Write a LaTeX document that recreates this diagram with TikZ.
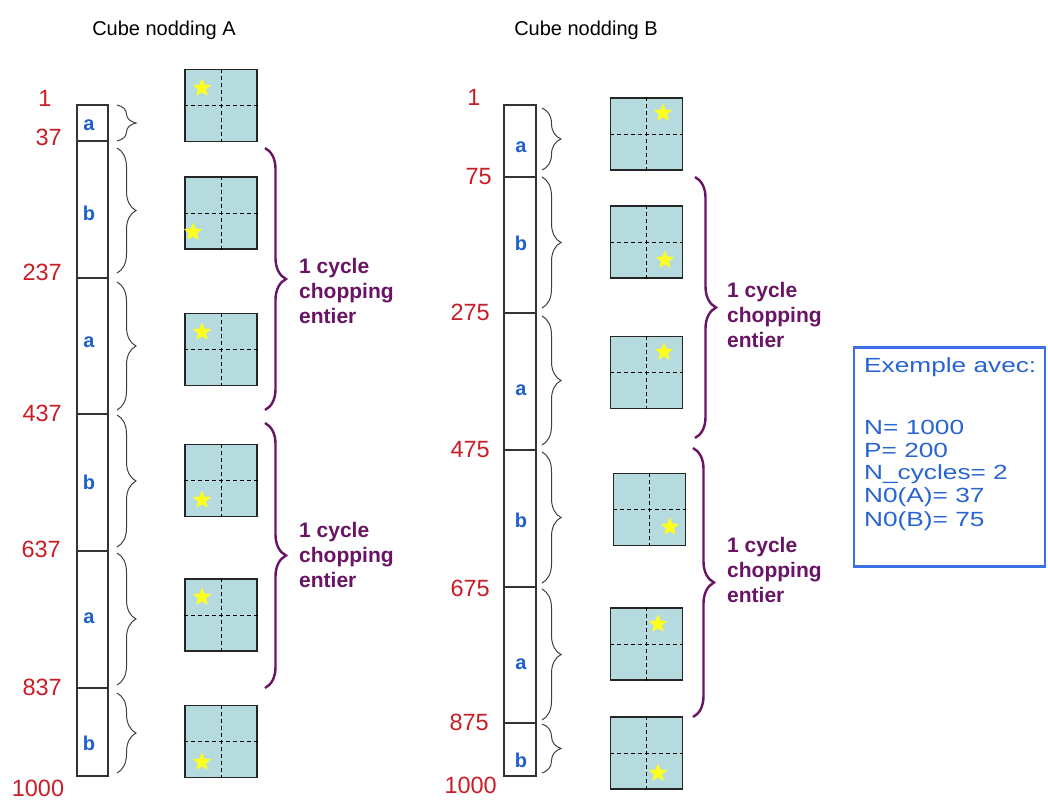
\documentclass[tikz,border=0pt]{standalone}
\usepackage{fontspec}
\setmainfont{Liberation Sans}
\newfontfamily\widefont[FakeStretch=1.28]{Liberation Sans}
\usetikzlibrary{shapes.geometric,decorations.pathreplacing}
\definecolor{numred}{RGB}{200,30,40}
\definecolor{segblue}{RGB}{30,95,205}
\definecolor{cyc}{RGB}{105,20,100}
\definecolor{sqfill}{RGB}{182,219,223}
\definecolor{boxblue}{RGB}{60,110,230}
\definecolor{boxtext}{RGB}{40,100,210}
\definecolor{staryel}{RGB}{255,255,30}
\newcommand\cubesq[4]{%
  \node[cubebox] (#1) at (#2,#3) {};
  \draw[cutline] (#1.north) -- (#1.south) (#1.west) -- (#1.east);
  \node[sstar] (#1s) at (#4) {};
}
\begin{document}
\begin{tikzpicture}[x=1pt,y=-1pt,
  title/.style={font=\fontsize{20}{24}\selectfont, inner sep=0},
  num/.style={font=\fontsize{23.5}{26}\selectfont, text=numred, inner sep=0},
  seg/.style={font=\bfseries\fontsize{20}{22}\selectfont, text=segblue, inner sep=0},
  bar/.style={draw=black!80, line width=1.2pt},
  sbrace/.style={draw=black!75, line width=1pt, decorate, decoration={brace, amplitude=19pt}},
  pbrace/.style={draw=cyc, line width=2.4pt, decorate, decoration={brace, amplitude=21pt}},
  cyctext/.style={font=\bfseries\fontsize{21}{25}\selectfont, text=cyc, align=left, inner sep=0, anchor=west},
  cubebox/.style={draw=black!85, line width=1.4pt, fill=sqfill, minimum size=72pt, inner sep=0},
  cutline/.style={draw=black, line width=1pt, dash pattern=on 4pt off 3pt},
  sstar/.style={star, star points=5, star point ratio=2.2, fill=staryel, draw=none, minimum size=19pt, inner sep=0},
  exline/.style={font=\widefont\fontsize{20.5}{23.5}\selectfont, text=boxtext, inner sep=0, anchor=west},
]
\useasboundingbox (0,0) rectangle (1048,800);
\fill[white] (0,0) rectangle (1048,800);

% titles
\node[title] (tA) at (164,30) {Cube nodding A};
\node[title] (tB) at (586,30) {Cube nodding B};

% ---------- column A ----------
\draw[bar] (77,105) rectangle (108,776);
\foreach \y in {141,278,414,551,688} \draw[bar] (77,\y) -- (108,\y);

\node[num] (nA0) at (45,98) {1};
\node[num,anchor=east] (nA1) at (62,137) {37};
\node[num,anchor=east] (nA2) at (62,272) {237};
\node[num,anchor=east] (nA3) at (62,413) {437};
\node[num,anchor=east] (nA4) at (61,549) {637};
\node[num,anchor=east] (nA5) at (62,687) {837};
\node[num] (nA6) at (38,788) {1000};

\node[seg] (sA1) at (89,125) {a};
\node[seg] (sA2) at (89,213) {b};
\node[seg] (sA3) at (89,342) {a};
\node[seg] (sA4) at (89,482) {b};
\node[seg] (sA5) at (89,618) {a};
\node[seg] (sA6) at (89,743) {b};

\draw[sbrace] (117,105) -- (117,141);
\draw[sbrace] (117,148) -- (117,273);
\draw[sbrace] (117,282) -- (117,410);
\draw[sbrace] (117,415) -- (117,547);
\draw[sbrace] (117,553) -- (117,685);
\draw[sbrace] (117,693) -- (117,773);

\cubesq{cA1}{221}{105.5}{202,88}
\cubesq{cA2}{221}{213}{193,232}
\cubesq{cA3}{221}{349.5}{202,332}
\cubesq{cA4}{221}{480.5}{202,500}
\cubesq{cA5}{221}{615}{202,597}
\cubesq{cA6}{221}{741.5}{202,762}

\draw[pbrace] (265,148) -- (265,410);
\draw[pbrace] (265,423) -- (265,688);
\node[cyctext] (kA1) at (299,291) {1 cycle\\chopping\\entier};
\node[cyctext] (kA2) at (299,555) {1 cycle\\chopping\\entier};

% ---------- column B ----------
\draw[bar] (504,105) rectangle (536,776);
\foreach \y in {177,313,450,587,723} \draw[bar] (504,\y) -- (536,\y);

\node[num] (nB0) at (474,97) {1};
\node[num,anchor=east] (nB1) at (492,177) {75};
\node[num,anchor=east] (nB2) at (490,312) {275};
\node[num,anchor=east] (nB3) at (490,450) {475};
\node[num,anchor=east] (nB4) at (490,588) {675};
\node[num,anchor=east] (nB5) at (489,722) {875};
\node[num,anchor=east] (nB6) at (497,785) {1000};

\node[seg] (sB1) at (521,147) {a};
\node[seg] (sB2) at (521,243) {b};
\node[seg] (sB3) at (521,390) {a};
\node[seg] (sB4) at (521,520) {b};
\node[seg] (sB5) at (521,664) {a};
\node[seg] (sB6) at (521,760) {b};

\draw[sbrace] (542,108) -- (542,170);
\draw[sbrace] (542,177) -- (542,308);
\draw[sbrace] (542,316) -- (542,445);
\draw[sbrace] (542,452) -- (542,583);
\draw[sbrace] (542,589) -- (542,720);
\draw[sbrace] (542,724) -- (542,773);

\cubesq{cB1}{646.5}{134}{663,113}
\cubesq{cB2}{646.5}{242}{665,260}
\cubesq{cB3}{646.5}{372.5}{664,352}
\cubesq{cB4}{649.5}{509.5}{670,527}
\cubesq{cB5}{646.5}{644}{658,624}
\cubesq{cB6}{646.5}{753}{658,773}

\draw[pbrace] (695,177) -- (695,438);
\draw[pbrace] (693,448) -- (693,717);
\node[cyctext] (kB1) at (727,315) {1 cycle\\chopping\\entier};
\node[cyctext] (kB2) at (727,570) {1 cycle\\chopping\\entier};

% ---------- example box ----------
\node[draw=boxblue, line width=2.2pt, minimum width=191pt, minimum height=219pt, inner sep=0] (ex) at (949.5,457) {};
\node[exline] (ex0) at (864,367) {Exemple avec:};
\node[exline] (ex1) at (864,427) {N= 1000};
\node[exline] (ex2) at (864,450.5) {P= 200};
\node[exline] (ex3) at (864,474) {N\_cycles= 2};
\node[exline] (ex4) at (864,497.5) {N0(A)= 37};
\node[exline] (ex5) at (864,521) {N0(B)= 75};
\end{tikzpicture}
\end{document}
